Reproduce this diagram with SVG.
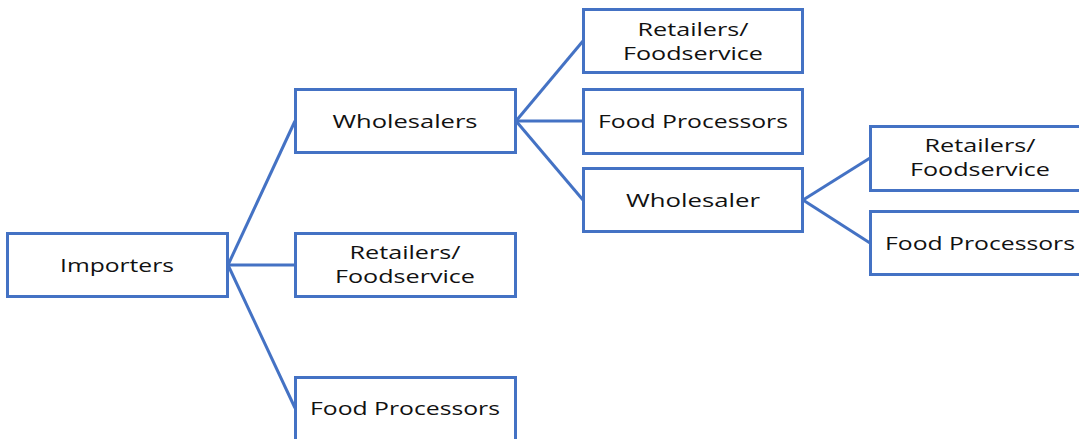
<svg xmlns="http://www.w3.org/2000/svg" width="1079" height="439" viewBox="0 0 1079 439">
<style>
.box{fill:#fff;stroke:#4472C4;stroke-width:3}
.lbl{font-family:"Open Sans","Noto Sans",sans-serif;font-size:18.5px;fill:#111;text-anchor:middle}
.con{stroke:#4472C4;stroke-width:3;fill:none}
</style>
<rect width="1079" height="439" fill="#fff"/>
<g id="connectors">
<line class="con" x1="228" y1="265" x2="295" y2="121"/>
<line class="con" x1="228" y1="265" x2="295" y2="265"/>
<line class="con" x1="228" y1="265" x2="295" y2="408"/>
<line class="con" x1="516" y1="121" x2="583" y2="41"/>
<line class="con" x1="516" y1="121" x2="583" y2="121"/>
<line class="con" x1="516" y1="121" x2="583" y2="200"/>
<line class="con" x1="803" y1="200" x2="870" y2="158"/>
<line class="con" x1="803" y1="200" x2="870" y2="243"/>
</g>
<g id="importers"><rect class="box" x="7.5" y="233.5" width="220" height="63"/><text class="lbl" x="117" y="272" textLength="114" lengthAdjust="spacingAndGlyphs">Importers</text></g>
<g id="wholesalers"><rect class="box" x="295.5" y="89.5" width="220" height="63"/><text class="lbl" x="405" y="128" textLength="145" lengthAdjust="spacingAndGlyphs">Wholesalers</text></g>
<g id="retailers1"><rect class="box" x="295.5" y="233.5" width="220" height="63"/><text class="lbl" x="405" y="259" textLength="111" lengthAdjust="spacingAndGlyphs">Retailers/</text><text class="lbl" x="405" y="283" textLength="140" lengthAdjust="spacingAndGlyphs">Foodservice</text></g>
<g id="processors1"><rect class="box" x="295.5" y="377.5" width="220" height="70"/><text class="lbl" x="405" y="415" textLength="190" lengthAdjust="spacingAndGlyphs">Food Processors</text></g>
<g id="retailers2"><rect class="box" x="583.5" y="9.5" width="219" height="63"/><text class="lbl" x="693" y="36" textLength="111" lengthAdjust="spacingAndGlyphs">Retailers/</text><text class="lbl" x="693" y="60" textLength="140" lengthAdjust="spacingAndGlyphs">Foodservice</text></g>
<g id="processors2"><rect class="box" x="583.5" y="89.5" width="219" height="64"/><text class="lbl" x="693" y="128" textLength="190" lengthAdjust="spacingAndGlyphs">Food Processors</text></g>
<g id="wholesaler"><rect class="box" x="583.5" y="168.5" width="219" height="63"/><text class="lbl" x="693" y="207" textLength="134" lengthAdjust="spacingAndGlyphs">Wholesaler</text></g>
<g id="retailers3"><rect class="box" x="870.5" y="126.5" width="220" height="64"/><text class="lbl" x="980" y="152" textLength="111" lengthAdjust="spacingAndGlyphs">Retailers/</text><text class="lbl" x="980" y="176" textLength="140" lengthAdjust="spacingAndGlyphs">Foodservice</text></g>
<g id="processors3"><rect class="box" x="870.5" y="211.5" width="220" height="63"/><text class="lbl" x="980" y="250" textLength="190" lengthAdjust="spacingAndGlyphs">Food Processors</text></g>
</svg>
